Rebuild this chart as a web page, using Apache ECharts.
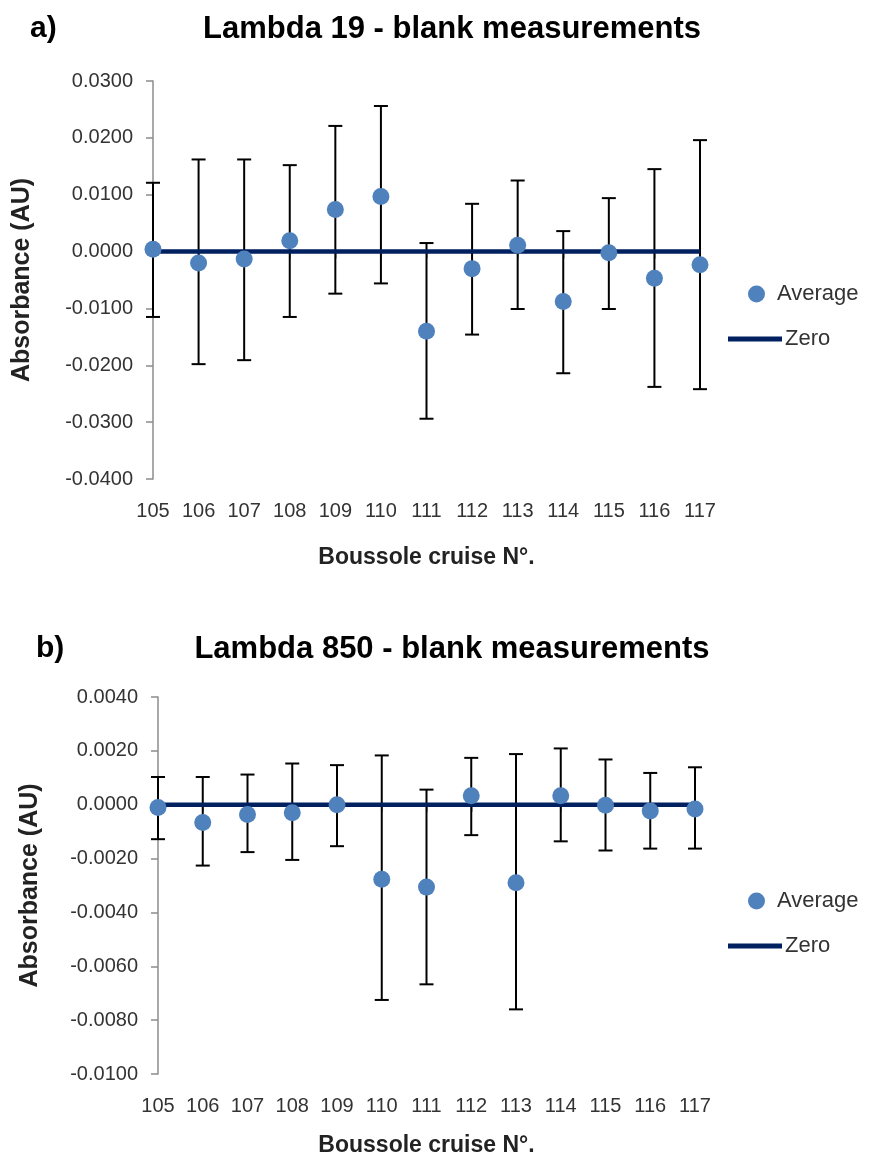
<!DOCTYPE html>
<html lang="en">
<head>
    <meta charset="utf-8">
    <title>Lambda blank measurements</title>
    <script src="https://cdn.jsdelivr.net/npm/echarts@6/dist/echarts.min.js"></script>
    <style>
        body { margin: 0; background: #fff; }
        .chart { width: 874px; height: 580px; }
    </style>
</head>
<body>
<div id="chartA" class="chart"></div>
<div id="chartB" class="chart"></div>
<script>
    // cruise numbers (x axis)
    var cruises = [105, 106, 107, 108, 109, 110, 111, 112, 113, 114, 115, 116, 117];

    // a) Lambda 19
    var avgA = [0.0004, -0.0020, -0.0013, 0.0019, 0.0074, 0.0097, -0.0140, -0.0030, 0.0011, -0.0088, -0.0002, -0.0047, -0.0023];
    var upA = [0.0121, 0.0162, 0.0162, 0.0152, 0.0221, 0.0256, 0.0015, 0.0084, 0.0125, 0.0036, 0.0094, 0.0145, 0.0196];
    var loA = [-0.0115, -0.0198, -0.0191, -0.0115, -0.0074, -0.0056, -0.0294, -0.0146, -0.0101, -0.0214, -0.0101, -0.0238, -0.0242];
    var zeroA = [0, 0, 0, 0, 0, 0, 0, 0, 0, 0, 0, 0, 0];

    // b) Lambda 850
    var avgB = [-0.0001, -0.00066, -0.00036, -0.0003, 0.0000, -0.00277, -0.00306, 0.00033, -0.0029, 0.00033, -0.00002, -0.00023, -0.00016];
    var upB = [0.00103, 0.00103, 0.00112, 0.00153, 0.00147, 0.00183, 0.00056, 0.00174, 0.00188, 0.00209, 0.00168, 0.00118, 0.00139];
    var loB = [-0.00128, -0.00226, -0.00176, -0.00205, -0.00154, -0.00725, -0.00667, -0.00113, -0.0076, -0.00136, -0.0017, -0.00163, -0.00163];
    var zeroB = [0, 0, 0, 0, 0, 0, 0, 0, 0, 0, 0, 0, 0];

    var FONT = "'Liberation Sans', Arial, sans-serif";

    function pairs(xs, ys) {
        var out = [];
        for (var i = 0; i < xs.length; i++) out.push([xs[i], ys[i]]);
        return out;
    }

    function errData(xs, lo, up) {
        var out = [];
        for (var i = 0; i < xs.length; i++) out.push([xs[i], lo[i], up[i]]);
        return out;
    }

    // vertical error bar with caps
    function renderErr(params, api) {
        var x = api.value(0);
        var lo = api.coord([x, api.value(1)]);
        var hi = api.coord([x, api.value(2)]);
        var w = 7;
        var st = {stroke: '#000', lineWidth: 2};
        return {
            type: 'group',
            children: [
                {type: 'line', shape: {x1: lo[0], y1: lo[1], x2: hi[0], y2: hi[1]}, style: st},
                {type: 'line', shape: {x1: lo[0] - w, y1: lo[1], x2: lo[0] + w, y2: lo[1]}, style: st},
                {type: 'line', shape: {x1: hi[0] - w, y1: hi[1], x2: hi[0] + w, y2: hi[1]}, style: st}
            ]
        };
    }

    function makeOption(cfg) {
        return {
            animation: false,
            textStyle: {fontFamily: FONT},
            title: [
                {
                    text: cfg.letter, left: cfg.letterLeft, top: cfg.titleTop, padding: 0,
                    textStyle: {fontSize: 30, fontWeight: 'bold', color: '#000', fontFamily: FONT}
                },
                {
                    text: cfg.title, left: 452, textAlign: 'center', top: cfg.titleTop, padding: 0,
                    textStyle: {fontSize: 31, fontWeight: 'bold', color: '#000', fontFamily: FONT}
                }
            ],
            legend: [
                {
                    data: ['Average'], orient: 'vertical', left: 748, top: cfg.legTop,
                    icon: 'circle', itemWidth: 17, itemHeight: 17, itemGap: 0, padding: 0,
                    textStyle: {fontSize: 22, color: '#333', fontFamily: FONT, padding: [0, 0, 0, 7]}
                },
                {
                    data: ['Zero'], orient: 'vertical', left: 728, top: cfg.legTop + 45,
                    icon: 'rect', itemWidth: 54, itemHeight: 5, padding: 0,
                    textStyle: {fontSize: 22, color: '#333', fontFamily: FONT, padding: [0, 0, 0, -2]}
                }
            ],
            grid: {
                left: cfg.left, top: cfg.top, width: cfg.width, height: cfg.height,
                containLabel: false, outerBoundsMode: 'none'
            },
            xAxis: {
                type: 'value', min: 105, max: 117, interval: 1,
                name: 'Boussole cruise N°.', nameLocation: 'middle', nameGap: cfg.xNameGap,
                nameTextStyle: {fontSize: 23, fontWeight: 'bold', color: '#222', fontFamily: FONT},
                axisLine: {lineStyle: {color: '#8c8c8c', width: 1.5}},
                axisTick: {length: 7, lineStyle: {color: '#8c8c8c', width: 1.5}},
                axisLabel: {fontSize: 20, color: '#333', margin: 22, fontFamily: FONT},
                splitLine: {show: false}
            },
            yAxis: {
                type: 'value', min: cfg.yMin, max: cfg.yMax, interval: cfg.yStep,
                name: 'Absorbance (AU)', nameLocation: 'middle', nameGap: cfg.yNameGap, nameRotate: 90,
                nameTextStyle: {fontSize: 25, fontWeight: 'bold', color: '#222', fontFamily: FONT},
                axisLine: {show: true, lineStyle: {color: '#8c8c8c', width: 1.5}},
                axisTick: {show: true, length: 7, lineStyle: {color: '#8c8c8c', width: 1.5}},
                axisLabel: {
                    fontSize: 20, color: '#333', margin: 20, fontFamily: FONT,
                    formatter: function (v) { return v.toFixed(4); }
                },
                splitLine: {show: false}
            },
            series: [
                {
                    name: 'err', type: 'custom', renderItem: renderErr, z: 1,
                    data: errData(cruises, cfg.lo, cfg.up)
                },
                {
                    name: 'Zero', type: 'line', showSymbol: false, symbol: 'none', z: 2,
                    lineStyle: {color: '#002060', width: 4.5}, itemStyle: {color: '#002060'},
                    data: pairs(cruises, cfg.zero)
                },
                {
                    name: 'Average', type: 'scatter', symbolSize: 17, z: 3,
                    itemStyle: {color: '#4F81BD', opacity: 1},
                    data: pairs(cruises, cfg.avg)
                }
            ]
        };
    }

    var chartA = echarts.init(document.getElementById('chartA'));
    chartA.setOption(makeOption({
        letter: 'a)', letterLeft: 30, title: 'Lambda 19 - blank measurements', titleTop: 14,
        legTop: 283,
        left: 153, top: 81, width: 547, height: 398,
        yMin: -0.04, yMax: 0.03, yStep: 0.01, yNameGap: 118, xNameGap: 67,
        avg: avgA, up: upA, lo: loA, zero: zeroA
    }));

    var chartB = echarts.init(document.getElementById('chartB'));
    chartB.setOption(makeOption({
        letter: 'b)', letterLeft: 36, title: 'Lambda 850 - blank measurements', titleTop: 54,
        legTop: 310,
        left: 158, top: 117, width: 537, height: 377,
        yMin: -0.01, yMax: 0.004, yStep: 0.002, yNameGap: 115, xNameGap: 60,
        avg: avgB, up: upB, lo: loB, zero: zeroB
    }));
</script>
</body>
</html>
